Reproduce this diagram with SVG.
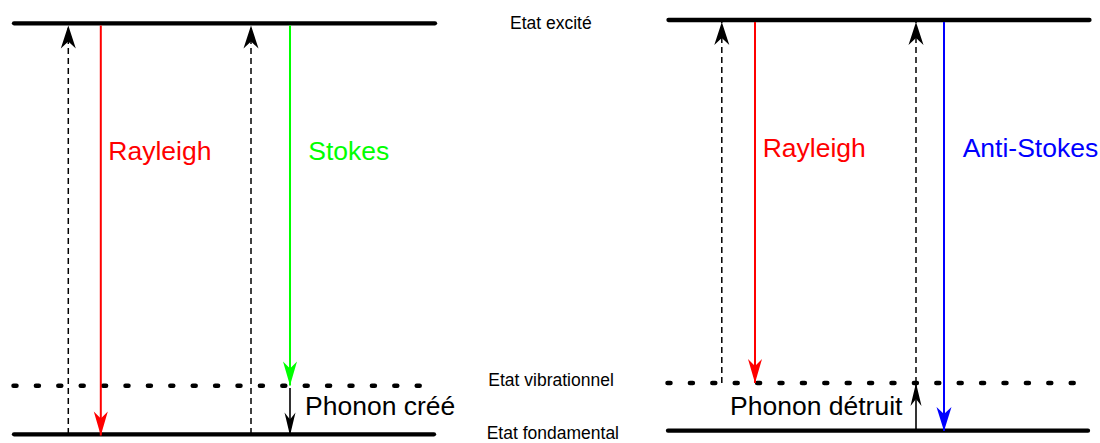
<svg xmlns="http://www.w3.org/2000/svg" width="1100" height="443" viewBox="0 0 1100 443">
  <style>
    .level { stroke: #000; stroke-width: 4.3; stroke-linecap: round; fill: none; }
    .virtual { stroke: #000; stroke-width: 4.5; stroke-linecap: round; stroke-dasharray: 3 19.4; fill: none; }
    .excite { stroke: #000; stroke-width: 1.5; stroke-dasharray: 6 4; fill: none; }
    .phonon { stroke: #000; stroke-width: 1.6; fill: none; }
    .ray { stroke: #ff0000; stroke-width: 2; fill: none; }
    .stokes { stroke: #00ff00; stroke-width: 2; fill: none; }
    .anti { stroke: #0000ff; stroke-width: 2; fill: none; }
    .big { font-family: "Liberation Sans", Arial, sans-serif; font-size: 26.5px; }
    .small { font-family: "Liberation Sans", Arial, sans-serif; font-size: 17.5px; fill: #000; }
  </style>
  <defs>
    <marker id="headBlack" markerUnits="userSpaceOnUse" orient="auto" refX="0" refY="0" overflow="visible">
      <path d="M0,0 L-23,-7.5 L-16,0 L-23,7.5 Z" fill="#000"/>
    </marker>
    <marker id="headSmall" markerUnits="userSpaceOnUse" orient="auto" refX="0" refY="0" overflow="visible">
      <path d="M0,0 L-23,-5.5 L-16,0 L-23,5.5 Z" fill="#000"/>
    </marker>
    <marker id="headRed" markerUnits="userSpaceOnUse" orient="auto" refX="0" refY="0" overflow="visible">
      <path d="M0,0 L-24,-7 L-17,0 L-24,7 Z" fill="#ff0000"/>
    </marker>
    <marker id="headGreen" markerUnits="userSpaceOnUse" orient="auto" refX="0" refY="0" overflow="visible">
      <path d="M0,0 L-24,-7 L-17,0 L-24,7 Z" fill="#00ff00"/>
    </marker>
    <marker id="headBlue" markerUnits="userSpaceOnUse" orient="auto" refX="0" refY="0" overflow="visible">
      <path d="M0,0 L-24,-7.5 L-17,0 L-24,7.5 Z" fill="#0000ff"/>
    </marker>
  </defs>

  <!-- energy levels -->
  <g id="levels-stokes">
    <line class="level" x1="14" y1="23.3" x2="435" y2="23.3"/>
    <line class="virtual" x1="13.5" y1="385.8" x2="422" y2="385.8"/>
    <line class="level" x1="14" y1="434.3" x2="434" y2="434.3"/>
  </g>
  <g id="levels-antistokes">
    <line class="level" x1="668.5" y1="20" x2="1089.5" y2="20"/>
    <line class="virtual" x1="667.5" y1="383" x2="1076" y2="383"/>
    <line class="level" x1="668" y1="430.7" x2="1088" y2="430.7"/>
  </g>

  <!-- transitions -->
  <g id="connectors">
    <line class="excite" x1="68.3" y1="434" x2="68.3" y2="25.5" marker-end="url(#headBlack)"/>
    <line class="ray" x1="100.8" y1="25.5" x2="100.8" y2="435.5" marker-end="url(#headRed)"/>
    <line class="excite" x1="251" y1="434" x2="251" y2="25.5" marker-end="url(#headBlack)"/>
    <line class="stokes" x1="290" y1="25.5" x2="290" y2="385.5" marker-end="url(#headGreen)"/>
    <line class="phonon" x1="290" y1="388" x2="290" y2="435.5" marker-end="url(#headSmall)"/>

    <line class="excite" x1="721.8" y1="383" x2="721.8" y2="22" marker-end="url(#headBlack)"/>
    <line class="ray" x1="755" y1="22" x2="755" y2="383" marker-end="url(#headRed)"/>
    <line class="excite" x1="916" y1="383" x2="916" y2="22" marker-end="url(#headBlack)"/>
    <line class="anti" x1="944" y1="22" x2="944" y2="431" marker-end="url(#headBlue)"/>
    <line class="phonon" x1="916" y1="430" x2="916" y2="383" marker-end="url(#headSmall)"/>
  </g>

  <!-- labels -->
  <g id="label-rayleigh-left"><text class="big" x="108.3" y="160" fill="#ff0000">Rayleigh</text></g>
  <g id="label-stokes"><text class="big" x="308.3" y="160" fill="#00ff00">Stokes</text></g>
  <g id="label-phonon-cree"><text class="big" x="305" y="415" fill="#000">Phonon créé</text></g>
  <g id="label-rayleigh-right"><text class="big" x="762.7" y="157" fill="#ff0000">Rayleigh</text></g>
  <g id="label-antistokes"><text class="big" x="962.7" y="157" fill="#0000ff">Anti-Stokes</text></g>
  <g id="label-phonon-detruit"><text class="big" x="730" y="415" fill="#000">Phonon détruit</text></g>

  <g id="label-excite"><text class="small" x="510" y="29.3">Etat excité</text></g>
  <g id="label-vibrationnel"><text class="small" x="488.3" y="386">Etat vibrationnel</text></g>
  <g id="label-fondamental"><text class="small" x="486.7" y="439.3">Etat fondamental</text></g>
</svg>
